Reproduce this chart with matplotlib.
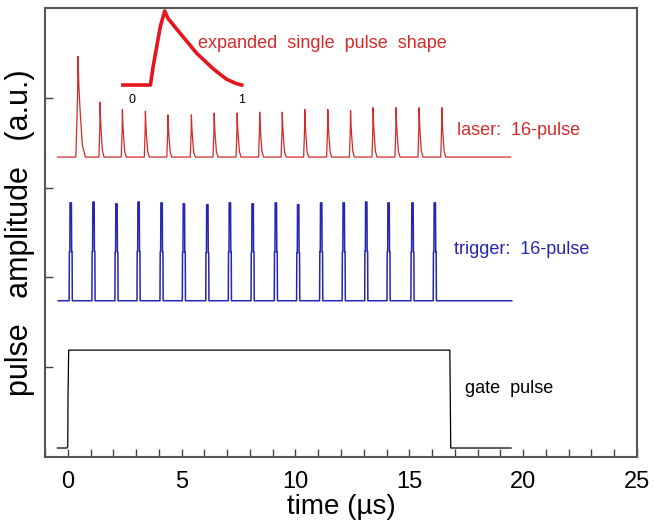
import numpy as np
import matplotlib.pyplot as plt

plt.rcParams['font.family'] = ['Liberation Sans', 'DejaVu Sans']

# laser trace (red): pulse times (us), peak heights, width factor
laser_t = [0.45, 1.42, 2.40, 3.41, 4.40, 5.43, 6.43, 7.44, 8.43,
           9.42, 10.41, 11.42, 12.42, 13.41, 14.42, 15.43, 16.43]
laser_peak = [4.46, 3.95, 3.87, 3.85, 3.81, 3.81, 3.83, 3.83, 3.84,
              3.84, 3.87, 3.87, 3.86, 3.89, 3.89, 3.89, 3.89]
laser_width = [1.9] + [1.0] * 16
laser_base = 3.34
laser_span = (-0.45, 19.45)

# trigger trace (blue)
trigger_t = [0.13, 1.13, 2.14, 3.11, 4.12, 5.10, 6.13, 7.12, 8.12,
             9.14, 10.12, 11.13, 12.12, 13.11, 14.09, 15.14, 16.12]
trigger_top = [2.83, 2.84, 2.82, 2.84, 2.83, 2.82, 2.81, 2.83, 2.82,
               2.83, 2.81, 2.83, 2.83, 2.84, 2.83, 2.83, 2.83]
trigger_base = 1.74
trigger_span = (-0.42, 19.5)

# gate pulse (black) corners
gate_x = [-0.45, -0.03, 0.0, 0.01, 0.04, 16.78, 16.80, 16.82, 19.47]
gate_y = [0.10, 0.10, 0.12, 0.65, 1.19, 1.19, 0.65, 0.10, 0.10]

# inset: expanded single pulse shape
shape_x = [-0.08, 0.17, 0.195, 0.26, 0.30, 0.33, 0.44, 0.59, 0.74, 0.86, 0.95, 1.0]
shape_y = [0, 0, 0.25, 0.79, 1.0, 0.9, 0.70, 0.43, 0.22, 0.08, 0.02, 0]

# pulse outlines (offset in us, fraction of height)
laser_dt = [-0.05, -0.01, 0.0, 0.02, 0.05, 0.10, 0.17]
laser_frac = [0, 0.6, 1, 0.7, 0.45, 0.12, 0]
trig_dt = [-0.07, -0.06, -0.04, -0.03, 0.03, 0.04, 0.06, 0.07]
trig_frac = [0, 0.5, 0.5, 1, 1, 0.5, 0.5, 0]


def trace(span, base, times, heights, dt, frac, widths=None):
    xs, ys = [span[0]], [base]
    for i, (t, h) in enumerate(zip(times, heights)):
        w = widths[i] if widths else 1.0
        for d, f in zip(dt, frac):
            xs.append(t + d * w)
            ys.append(base + f * (h - base))
    xs.append(span[1])
    ys.append(base)
    return np.array(xs), np.array(ys)


red = '#d42a2a'
blue = '#2626b4'

fig = plt.figure(figsize=(6.54, 5.26), dpi=100)
ax = fig.add_axes([0.0688, 0.1312, 0.9052, 0.8536])

x, y = trace(laser_span, laser_base, laser_t, laser_peak, laser_dt, laser_frac, laser_width)
ax.plot(x, y, color=red, lw=0.9)
x, y = trace(trigger_span, trigger_base, trigger_t, trigger_top, trig_dt, trig_frac)
ax.plot(x, y, color=blue, lw=1.1)
ax.plot(gate_x, gate_y, color='black', lw=0.9)

ax.text(5.7, 4.6, 'expanded  single  pulse  shape', color=red, fontsize=13, va='center')
ax.text(17.1, 3.64, 'laser:  16-pulse', color=red, fontsize=13, va='center')
ax.text(16.95, 2.31, 'trigger:  16-pulse', color=blue, fontsize=13, va='center')
ax.text(17.45, 0.76, 'gate  pulse', color='black', fontsize=13, va='center')

ax.set_xlim(-1, 25)
ax.set_ylim(0, 5)
ax.set_xticks([0, 5, 10, 15, 20, 25])
ax.set_xticks(np.arange(-1, 26, 1), minor=True)
ax.set_yticks([1, 2, 3, 4])
ax.set_yticklabels([])
ax.tick_params(which='both', direction='in', length=6, width=1, color='#444444')
ax.tick_params(axis='x', labelsize=17, pad=10)
for s in ax.spines.values():
    s.set_color('#555555')
    s.set_linewidth(1.5)

ax.set_xlabel('time (µs)', fontsize=20, labelpad=1)
ax.set_ylabel('pulse   amplitude   (a.u.)', fontsize=22)
ax.yaxis.set_label_coords(-0.017, 0.5)

ins = fig.add_axes([0.1812, 0.8243, 0.2052, 0.1618])
ins.plot(shape_x, shape_y, color='#e8141c', lw=2.6, solid_joinstyle='round')
ins.set_xlim(-0.12, 1.1)
ins.set_ylim(-0.1, 1.05)
ins.set_xticks([0, 1])
ins.set_yticks([])
ins.tick_params(axis='x', length=0, labelsize=9, pad=1)
ins.patch.set_alpha(0)
for s in ins.spines.values():
    s.set_visible(False)

fig.savefig('out.png', dpi=100)
